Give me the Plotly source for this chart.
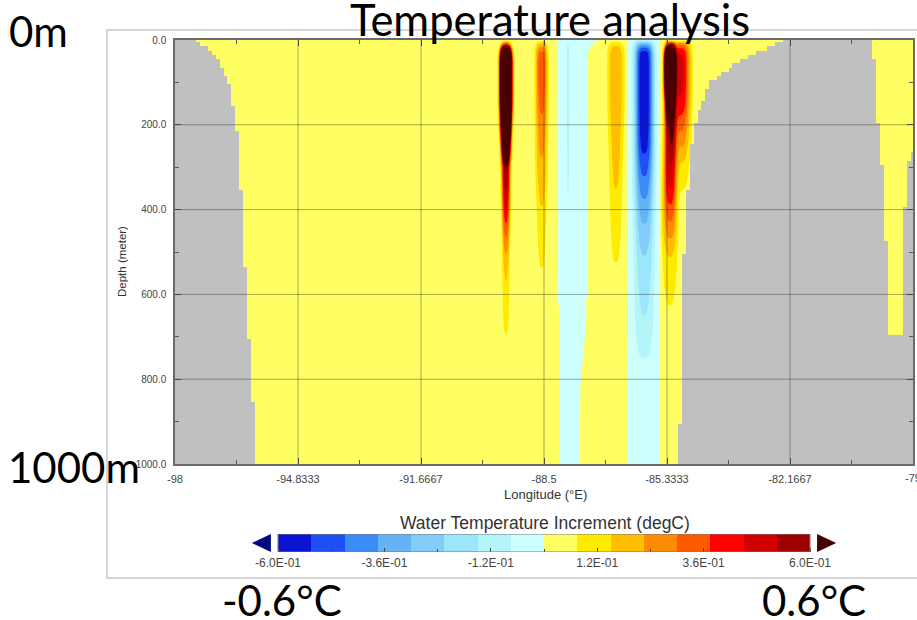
import numpy as np
import plotly.graph_objects as go

W, H = 917, 620

# ---------------- axes / labels ----------------
lon_ticks = [-98, -94.8333, -91.6667, -88.5, -85.3333, -82.1667, -79]
lon_ticktext = ["-98", "-94.8333", "-91.6667", "-88.5", "-85.3333", "-82.1667", "-79"]
depth_ticks = [0, 200, 400, 600, 800, 1000]
depth_ticktext = ["0.0", "200.0", "400.0", "600.0", "800.0", "1000.0"]

# ---------------- colour levels ----------------
level_start, level_end, level_step = -0.6, 0.6, 0.075
cbar_tickvals = [-0.6, -0.36, -0.12, 0.12, 0.36, 0.6]
cbar_ticktext = ["-6.0E-01", "-3.6E-01", "-1.2E-01", "1.2E-01", "3.6E-01", "6.0E-01"]
level_colors = ["#0a14d2", "#1e50f5", "#3c8cf5", "#64b4f5", "#82cdf8", "#9be6fa", "#b4f5fa", "#cdffff",
                "#ffff64", "#ffeb00", "#ffbe00", "#ff8c00", "#ff5a00", "#ff0000", "#d20000", "#a00000"]
under_color = "#000a7d"
over_color = "#4b0000"
land_color = "#c0c0c0"

# ---------------- section data ----------------
depth_nodes = [0, 10, 25, 50, 100, 150, 200, 250, 300, 350, 400, 450, 500, 550, 600, 650, 700, 750, 800, 900, 1000]

west_coast_lon = [-97.45, -97.3, -97.1, -96.88, -96.6, -96.5, -96.41, -96.37, -96.33, -96.3, -96.27,
                  -96.25, -96.22, -96.19, -96.16, -96.13, -96.1, -96.07, -96.03, -95.97, -95.9]
east_coast_lon = [-82.38, -82.58, -82.9, -83.5, -84.22, -84.44, -84.63, -84.71, -84.76, -84.8, -84.835,
                  -84.87, -84.9, -84.91, -84.92, -84.93, -84.95, -84.96, -84.97, -85.0, -85.02]
east_strip_west_lon = [-80.06, -80.06, -80.03, -80.0, -79.96, -79.93, -79.9, -79.85, -79.8, -79.77, -79.74,
                       -79.71, -79.69, -79.67, -79.66, -79.65, -79.64, -79.64, -79.64, -79.64, -79.64]
east_strip_east_lon = [-78.9, -78.9, -78.9, -78.9, -78.9, -78.9, -78.9, -78.9, -79.18, -79.19, -79.2,
                       -79.21, -79.22, -79.23, -79.24, -79.25, -79.26, -79.26, -79.26, -79.26, -79.26]
east_strip_bottom = 690

background_increment = 0.03
cyan_band_increment = -0.03
band1_west_lon = [-88.16, -88.16, -88.16, -88.16, -88.16, -88.16, -88.16, -88.16, -88.15, -88.15, -88.15,
                  -88.14, -88.14, -88.13, -88.13, -88.12, -88.12, -88.11, -88.1, -88.1, -88.1]
band1_east_lon = [-87.12, -87.25, -87.36, -87.38, -87.38, -87.38, -87.38, -87.38, -87.38, -87.38, -87.38,
                  -87.39, -87.39, -87.4, -87.4, -87.41, -87.45, -87.5, -87.55, -87.6, -87.6]
band2_west_lon = [-86.34] * 21
band2_east_lon = [-85.51] * 18 + [-85.52, -85.53, -85.54]

plume_center_lon = {"A": -89.48, "B": -88.56, "C": -86.65, "D": -85.92, "E1": -85.26, "E2": -85.0, "F": -87.88}
plume_amp = {
    "A": [0.0, 0.35, 1.2, 2.0, 2.0, 1.9, 1.6, 1.1, 0.56, 0.5, 0.42, 0.3, 0.2, 0.13, 0.1, 0.075, 0.04, 0, 0, 0, 0],
    "B": [0.0, 0.15, 0.28, 0.33, 0.33, 0.29, 0.25, 0.21, 0.18, 0.145, 0.115, 0.09, 0.06, 0.04, 0, 0, 0, 0, 0, 0, 0],
    "C": [0.0, 0.1, 0.17, 0.19, 0.19, 0.18, 0.165, 0.15, 0.135, 0.12, 0.1, 0.08, 0.055, 0.035, 0, 0, 0, 0, 0, 0, 0],
    "D": [-0.05, -0.3, -0.52, -0.56, -0.56, -0.56, -0.55, -0.52, -0.45, -0.38, -0.31, -0.25, -0.2, -0.17,
          -0.14, -0.12, -0.08, -0.045, -0.02, 0, 0],
    "E1": [0.0, 0.4, 1.2, 2.0, 1.7, 0.9, 0.52, 0.465, 0.45, 0.4, 0.32, 0.23, 0.13, 0.09, 0.055, 0.035, 0, 0, 0, 0, 0],
    "E2": [0.0, 0.25, 0.4, 0.45, 0.45, 0.4, 0.3, 0.2, 0.1, 0.05, 0, 0, 0, 0, 0, 0, 0, 0, 0, 0, 0],
    "F": [0.0, -0.05, -0.065, -0.065, -0.065, -0.065, -0.065, -0.06, -0.06, -0.055, -0.03, 0, 0, 0, 0, 0, 0, 0, 0, 0, 0],
}
plume_width = {
    "A": [0.10, 0.12, 0.14, 0.14, 0.14, 0.14, 0.13, 0.12, 0.11, 0.105, 0.1, 0.095, 0.09, 0.09, 0.09, 0.09, 0.09, 0.09, 0.09, 0.09, 0.09],
    "B": [0.12, 0.14, 0.15, 0.15, 0.15, 0.15, 0.15, 0.15, 0.15, 0.14, 0.13, 0.12, 0.12, 0.12, 0.12, 0.12, 0.12, 0.12, 0.12, 0.12, 0.12],
    "C": [0.16, 0.18, 0.2, 0.2, 0.2, 0.2, 0.19, 0.18, 0.17, 0.165, 0.16, 0.155, 0.15, 0.15, 0.15, 0.15, 0.15, 0.15, 0.15, 0.15, 0.15],
    "D": [0.24] * 21,
    "E1": [0.11, 0.12, 0.13, 0.13, 0.13, 0.13, 0.14, 0.15, 0.16, 0.17, 0.18, 0.19, 0.19, 0.19, 0.19, 0.19, 0.19, 0.19, 0.19, 0.19, 0.19],
    "E2": [0.25] * 21,
    "F": [0.04] * 21,
}
shape_exponent = 3

# ---------------- build field ----------------
lon_grid = np.round(np.arange(-98, -79 + 1e-9, 0.025), 4)
dep_grid = np.arange(0, 1001, 10.0)
LON, DEP = np.meshgrid(lon_grid, dep_grid)


def prof(values, d=dep_grid):
    return np.interp(d, depth_nodes, values)[:, None]


field = np.full(LON.shape, background_increment)
for bw, be in [(band1_west_lon, band1_east_lon), (band2_west_lon, band2_east_lon)]:
    field = np.where((LON >= prof(bw)) & (LON <= prof(be)), cyan_band_increment, field)
for k in plume_center_lon:
    a = prof(plume_amp[k])
    s = prof(plume_width[k])
    field = field + a * np.exp(-np.abs((LON - plume_center_lon[k]) / s) ** shape_exponent)

# land mask
mlon = np.round(np.arange(-98, -79 + 1e-9, 0.1), 3)
mdep = np.arange(0, 1001, 10.0)
ML, MD = np.meshgrid(mlon, mdep)
wc, ec = prof(west_coast_lon, mdep), prof(east_coast_lon, mdep)
sw, se = prof(east_strip_west_lon, mdep), prof(east_strip_east_lon, mdep)
land = (ML < wc) | ((ML > ec) & ~((ML > sw) & (ML < se) & (MD <= east_strip_bottom)))
mask_z = np.where(land, 1.0, np.nan)

# colour scale: under, 16 levels, over at band centres
all_colors = [under_color] + level_colors + [over_color]
nseg = len(all_colors) - 1
colorscale = [[i / nseg, c] for i, c in enumerate(all_colors)]

fig = go.Figure()
fig.add_trace(go.Contour(
    x=lon_grid, y=dep_grid, z=field,
    contours=dict(start=level_start, end=level_end, size=level_step, coloring="fill"),
    colorscale=colorscale, line=dict(width=0), showscale=False, hoverinfo="skip"))
# land drawn on an overlaid copy of the axes so it sits above the filled contours
fig.add_trace(go.Heatmap(
    x=mlon, y=mdep, z=mask_z, zmin=0, zmax=1,
    colorscale=[[0, land_color], [1, land_color]], showscale=False, hoverinfo="skip",
    xaxis="x3", yaxis="y3"))

# colour bar as its own axis
bin_edges = np.linspace(level_start, level_end, len(level_colors) + 1)
bin_centers = (bin_edges[:-1] + bin_edges[1:]) / 2
fig.add_trace(go.Heatmap(
    x=bin_centers, y=[0.5], z=[bin_centers],
    zmin=level_start - level_step / 2, zmax=level_end + level_step / 2,
    colorscale=colorscale, showscale=False, hoverinfo="skip", xaxis="x2", yaxis="y2"))
arrow_gap, arrow_len, cbar_ext = 0.016, 0.043, 0.065
for xs, col in [([level_start - arrow_gap, level_start - arrow_gap - arrow_len, level_start - arrow_gap], under_color),
                ([level_end + arrow_gap, level_end + arrow_gap + arrow_len, level_end + arrow_gap], over_color)]:
    fig.add_trace(go.Scatter(x=xs, y=[0, 0.5, 1], mode="lines", fill="toself", fillcolor=col,
                             line=dict(width=0, color=col), hoverinfo="skip", xaxis="x2", yaxis="y2"))


def mids(v):
    return [(v[i] + v[i + 1]) / 2 for i in range(len(v) - 1)]


tick_col = "#555555"
axis_common = dict(showgrid=False, zeroline=False, showline=True, linecolor="#6a6a6a", linewidth=1.5,
                   mirror="ticks", ticks="inside", ticklen=6, tickcolor=tick_col, tickwidth=1,
                   automargin=False, layer="above traces")

px_per_unit = (810 - 278) / (level_end - level_start)

fig.update_layout(
    template="none",
    width=W, height=H, autosize=False, margin=dict(l=0, r=0, t=0, b=0, pad=0, autoexpand=False),
    paper_bgcolor="white", plot_bgcolor="white", showlegend=False, hovermode=False,
    font=dict(family="Liberation Sans, Arial, sans-serif", color="#333333"),
    xaxis=dict(domain=[175 / W, 913 / W], range=[-98, -79], tickmode="array",
               tickvals=lon_ticks, ticktext=lon_ticktext, ticklabelstandoff=4,
               tickfont=dict(size=11, color="#444444"),
               minor=dict(tickmode="array", tickvals=mids(lon_ticks), ticks="inside", ticklen=4,
                          tickcolor=tick_col),
               **axis_common),
    yaxis=dict(domain=[1 - 464 / H, 1 - 40 / H], range=[1000, 0], tickmode="array",
               tickvals=depth_ticks, ticktext=depth_ticktext, ticklabelstandoff=5,
               tickfont=dict(size=10, color="#444444"),
               minor=dict(tickmode="array", tickvals=mids(depth_ticks), ticks="inside", ticklen=4,
                          tickcolor=tick_col),
               **axis_common),
    xaxis3=dict(overlaying="x", range=[-98, -79], visible=False, automargin=False),
    yaxis3=dict(overlaying="y", range=[1000, 0], visible=False, automargin=False),
    xaxis2=dict(domain=[(278 - cbar_ext * px_per_unit) / W, (810 + cbar_ext * px_per_unit) / W],
                range=[level_start - cbar_ext, level_end + cbar_ext], anchor="y2",
                tickmode="array", tickvals=cbar_tickvals, ticktext=cbar_ticktext,
                ticks="inside", ticklen=4, tickcolor="#444444",
                minor=dict(tickmode="array", tickvals=mids(cbar_tickvals), ticks="inside", ticklen=3,
                           tickcolor="#444444"),
                showline=False, showgrid=False, zeroline=False, ticklabelstandoff=2, automargin=False,
                tickfont=dict(size=12, color="#444444")),
    yaxis2=dict(domain=[1 - 552 / H, 1 - 534 / H], range=[0, 1], anchor="x2",
                showticklabels=False, ticks="", showline=False, showgrid=False, zeroline=False,
                automargin=False),
)

# grid lines drawn above the data
shapes = []
grid_line = dict(color="rgba(30,30,30,0.38)", width=1)
for v in lon_ticks[1:-1]:
    shapes.append(dict(type="line", xref="x", yref="y domain", x0=v, x1=v, y0=0, y1=1,
                       line=grid_line, layer="above"))
for v in depth_ticks[1:-1]:
    shapes.append(dict(type="line", xref="x domain", yref="y", x0=0, x1=1, y0=v, y1=v,
                       line=grid_line, layer="above"))
# colour bar outline
shapes.append(dict(type="rect", xref="x2", yref="y2", x0=level_start, x1=level_end, y0=0, y1=1,
                   line=dict(color="#777777", width=1), fillcolor="rgba(0,0,0,0)", layer="above"))
# outer frame of the pasted picture
shapes.append(dict(type="rect", xref="paper", yref="paper", x0=107 / W, x1=1.01,
                   y0=1 - 578 / H, y1=1 - 30 / H, line=dict(color="#c8c8c8", width=1.5),
                   fillcolor="rgba(0,0,0,0)", layer="below"))
fig.update_layout(shapes=shapes)


def ann(text, x, y, size, family=None, color="#333333", angle=0):
    return dict(text=text, x=x / W, y=1 - y / H, xref="paper", yref="paper", showarrow=False,
                xanchor="center", yanchor="middle", textangle=angle,
                font=dict(size=size, color=color, family=family or "Liberation Sans, Arial, sans-serif"))


big = "Lato, Open Sans, sans-serif"
fig.update_layout(annotations=[
    ann("Depth (meter)", 122, 262, 11.5, angle=-90),
    ann("Longitude (°E)", 545, 494, 13),
    ann("Water Temperature Increment (degC)", 545, 523, 17.5),
    # last longitude label, cut by the right edge as in the source image
    ann(lon_ticktext[-1], 913, 478, 11, color="#444444"),
    ann("Temperature analysis", 550, 19, 43.5, big, "#000000"),
    ann("0m", 38, 31, 42, big, "#000000"),
    ann("1000m", 74, 467, 42, big, "#000000"),
    ann("-0.6°C", 282, 600, 42, big, "#000000"),
    ann("0.6°C", 814, 600, 42, big, "#000000"),
])

fig.write_html("out.html")
